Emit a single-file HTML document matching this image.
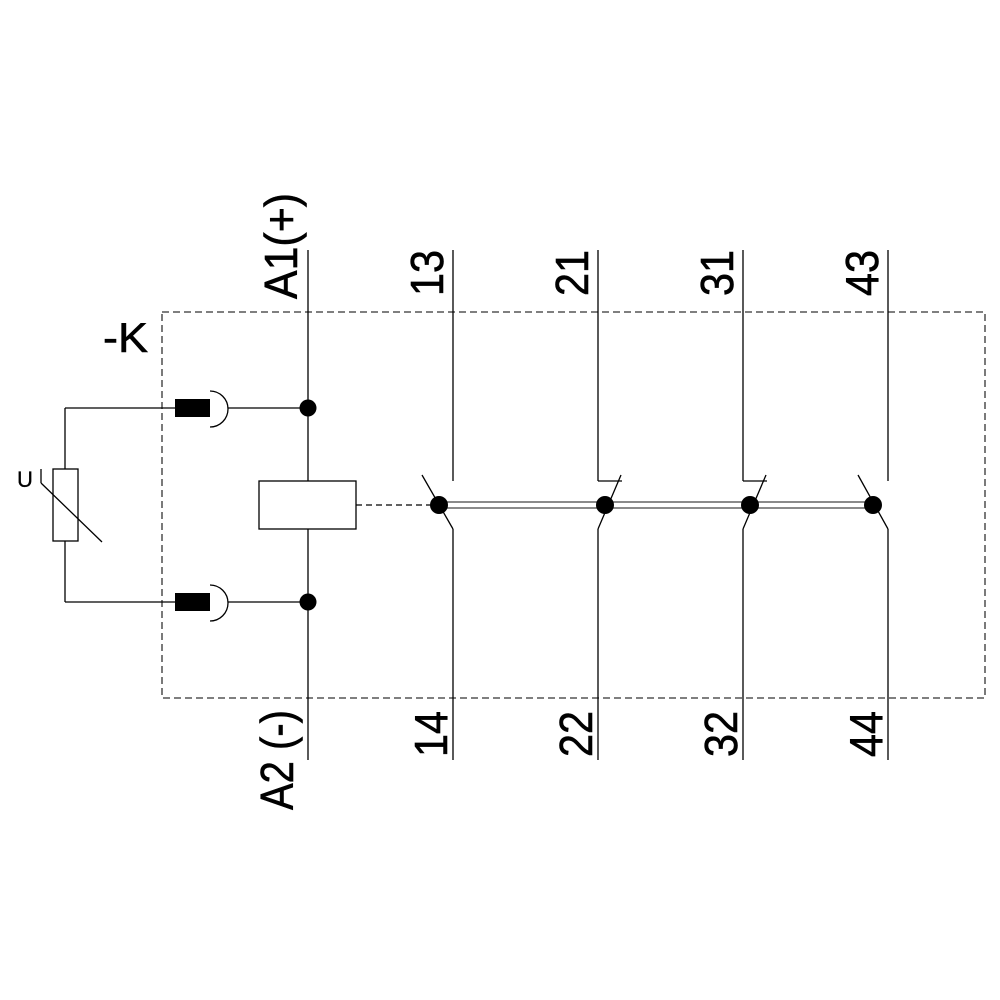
<!DOCTYPE html>
<html><head><meta charset="utf-8"><style>html,body{margin:0;padding:0;background:#fff}svg{display:block}</style></head>
<body>
<svg width="1000" height="1000" viewBox="0 0 1000 1000" xmlns="http://www.w3.org/2000/svg" font-family="Liberation Sans, Arial, sans-serif">
<g stroke="#000" stroke-width="1.3" fill="none">
<rect x="162" y="312" width="823" height="386" stroke="#333" stroke-dasharray="7,4"/>
<line x1="308" y1="250" x2="308" y2="481"/>
<line x1="308" y1="529" x2="308" y2="760"/>
<rect x="259" y="481" width="97" height="48" fill="#fff"/>
<line x1="356" y1="505" x2="439" y2="505" stroke-dasharray="6,4"/>
<line x1="65" y1="408" x2="175" y2="408"/>
<line x1="65" y1="602" x2="175" y2="602"/>
<line x1="65" y1="408" x2="65" y2="469"/>
<line x1="65" y1="541" x2="65" y2="602"/>
<rect x="53" y="469" width="25" height="72"/>
<line x1="41" y1="483" x2="102" y2="542"/>
<line x1="41" y1="469" x2="41" y2="483"/>
<path d="M210 391 A18 18 0 0 1 210 427"/>
<path d="M210 585 A18 18 0 0 1 210 621"/>
<line x1="228" y1="408" x2="308" y2="408"/>
<line x1="228" y1="602" x2="308" y2="602"/>
<line x1="453" y1="250" x2="453" y2="481"/>
<line x1="453" y1="529" x2="453" y2="760"/>
<line x1="422" y1="475" x2="453" y2="529"/>
<line x1="598" y1="250" x2="598" y2="481"/>
<line x1="598" y1="481" x2="622" y2="481"/>
<line x1="598" y1="529" x2="598" y2="760"/>
<line x1="621" y1="475" x2="598" y2="529"/>
<line x1="743" y1="250" x2="743" y2="481"/>
<line x1="743" y1="481" x2="767" y2="481"/>
<line x1="743" y1="529" x2="743" y2="760"/>
<line x1="766" y1="475" x2="743" y2="529"/>
<line x1="888" y1="250" x2="888" y2="481"/>
<line x1="888" y1="529" x2="888" y2="760"/>
<line x1="858" y1="475" x2="888" y2="529"/>
<line x1="439" y1="502" x2="873" y2="502" stroke="#444"/>
<line x1="439" y1="508" x2="873" y2="508" stroke="#444"/>
</g>
<g fill="#000">
<rect x="175" y="399" width="35" height="18"/>
<rect x="175" y="593" width="35" height="18"/>
<circle cx="308" cy="408" r="8.5"/>
<circle cx="308" cy="602" r="8.5"/>
<circle cx="439" cy="505" r="9"/>
<circle cx="605" cy="505" r="9"/>
<circle cx="750" cy="505" r="9"/>
<circle cx="873" cy="505" r="9"/>
</g>
<g fill="#000" font-size="46" stroke="#000" stroke-width="0.6">
<text x="103" y="352" font-size="42" textLength="45" lengthAdjust="spacingAndGlyphs">-K</text>
<text x="17" y="487" font-size="22" stroke-width="0.3">U</text>
<text transform="translate(297,299) rotate(-90)" textLength="106" lengthAdjust="spacingAndGlyphs">A1(+)</text>
<text transform="translate(443,296) rotate(-90)" textLength="46" lengthAdjust="spacingAndGlyphs">13</text>
<text transform="translate(588,296) rotate(-90)" textLength="46" lengthAdjust="spacingAndGlyphs">21</text>
<text transform="translate(733,296) rotate(-90)" textLength="46" lengthAdjust="spacingAndGlyphs">31</text>
<text transform="translate(878,296) rotate(-90)" textLength="46" lengthAdjust="spacingAndGlyphs">43</text>
<text transform="translate(293,810) rotate(-90)" textLength="100" lengthAdjust="spacingAndGlyphs">A2 (-)</text>
<text transform="translate(447,757) rotate(-90)" textLength="46" lengthAdjust="spacingAndGlyphs">14</text>
<text transform="translate(592,757) rotate(-90)" textLength="46" lengthAdjust="spacingAndGlyphs">22</text>
<text transform="translate(737,757) rotate(-90)" textLength="46" lengthAdjust="spacingAndGlyphs">32</text>
<text transform="translate(882,757) rotate(-90)" textLength="46" lengthAdjust="spacingAndGlyphs">44</text>
</g>
</svg>
</body></html>
